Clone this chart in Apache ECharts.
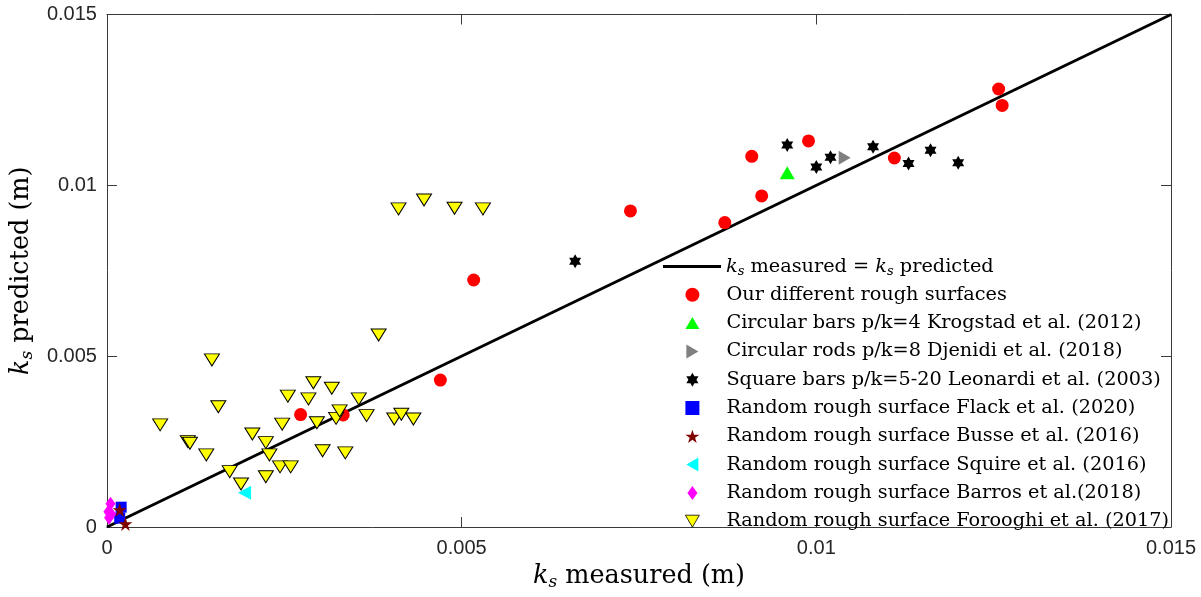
<!DOCTYPE html>
<html>
<head>
<meta charset="utf-8">
<script src="https://cdn.jsdelivr.net/npm/echarts@6/dist/echarts.min.js"></script>
<style>
  html, body { margin: 0; padding: 0; background: #fff; }
  #chart { width: 1201px; height: 597px; }
</style>
</head>
<body>
<div id="chart"></div>
<script>
// Tick labels shared by both axes (0 to 0.015 m, step 0.005)
const tickLabels = ['0', '0.005', '0.01', '0.015'];

// Identity line k_s measured = k_s predicted
const identityX = [0, 0.015];
const identityY = [0, 0.015];

// Present rough surfaces
const ourX = [0.00273, 0.00333, 0.00470, 0.00517, 0.00738, 0.00871, 0.00923, 0.00909, 0.00989, 0.01110, 0.01257, 0.01262];
const ourY = [0.00329, 0.00328, 0.00430, 0.00723, 0.00925, 0.00891, 0.00969, 0.01085, 0.01130, 0.01080, 0.01282, 0.01234];

// Krogstad et al. (2012), circular bars
const krogX = [0.00959];
const krogY = [0.01037];

// Djenidi et al. (2018), circular rods
const djenX = [0.01040];
const djenY = [0.01081];

// Leonardi et al. (2003), square bars
const leonX = [0.00660, 0.00959, 0.01000, 0.01020, 0.01080, 0.01130, 0.01161, 0.01200];
const leonY = [0.00778, 0.01118, 0.01054, 0.01082, 0.01113, 0.01064, 0.01103, 0.01066];

// Flack et al. (2020)
const flackX = [0.00020, 0.00018];
const flackY = [0.00058, 0.00026];

// Busse et al. (2016)
const busseX = [0.00018, 0.00026];
const busseY = [0.00050, 0.00009];

// Squire et al. (2016)
const squireX = [0.00194];
const squireY = [0.00100];

// Barros et al. (2018)
const barrosX = [0.00005, 0.00002, 0.00003, 0.00006];
const barrosY = [0.00068, 0.00045, 0.00027, 0.00038];

// Forooghi et al. (2017)
const foroX = [0.00383, 0.00148, 0.00157, 0.00075, 0.00114, 0.00117, 0.00140, 0.00173, 0.00189, 0.00205,
               0.00224, 0.00229, 0.00224, 0.00244, 0.00259, 0.00247, 0.00255, 0.00284, 0.00291, 0.00296,
               0.00304, 0.00317, 0.00323, 0.00328, 0.00336, 0.00355, 0.00366, 0.00405, 0.00415, 0.00432,
               0.00411, 0.00447, 0.00490, 0.00530];
const foroY = [0.00562, 0.00489, 0.00352, 0.00299, 0.00250, 0.00245, 0.00211, 0.00162, 0.00126, 0.00272,
               0.00247, 0.00211, 0.00147, 0.00176, 0.00176, 0.00301, 0.00383, 0.00375, 0.00422, 0.00305,
               0.00223, 0.00406, 0.00318, 0.00340, 0.00217, 0.00375, 0.00326, 0.00316, 0.00330, 0.00316,
               0.00931, 0.00957, 0.00933, 0.00931];

const names = [
  'ks measured = ks predicted',
  'Our different rough surfaces',
  'Circular bars p/k=4 Krogstad et al. (2012)',
  'Circular rods p/k=8 Djenidi et al. (2018)',
  'Square bars p/k=5-20 Leonardi et al. (2003)',
  'Random rough surface Flack et al. (2020)',
  'Random rough surface Busse et al. (2016)',
  'Random rough surface Squire et al. (2016)',
  'Random rough surface Barros et al.(2018)',
  'Random rough surface Forooghi et al. (2017)'
];

const HEXAGRAM = 'path://M50 0 L64.43 25 L93.3 25 L78.87 50 L93.3 75 L64.43 75 L50 100 L35.57 75 L6.7 75 L21.13 50 L6.7 25 L35.57 25 Z';
const PENTAGRAM = 'path://M50 0 L61.23 34.55 L97.55 34.55 L68.17 55.9 L79.39 90.45 L50 69.1 L20.61 90.45 L31.83 55.9 L2.45 34.55 L38.77 34.55 Z';
const TRI_UP = 'path://M7 0 L14 12 L0 12 Z';
const TRI_DOWN = 'path://M0 0 L14 0 L7 12 Z';
const TRI_RIGHT = 'path://M0 0 L12 7 L0 14 Z';
const TRI_LEFT = 'path://M12 0 L0 7 L12 14 Z';

const zip = (xs, ys) => xs.map((x, i) => [x, ys[i]]);

const AXIS = '#3a3a3a';
const SERIF = '"DejaVu Serif", "Liberation Serif", serif';
const SANS = '"Liberation Sans", Arial, sans-serif';
const tickFmt = v => tickLabels[Math.round(v / 0.005)];

function mathRich(size) {
  return {
    r: { fontFamily: SERIF, fontSize: size, color: '#000', lineHeight: size },
    i: { fontFamily: SERIF, fontSize: size, fontStyle: 'italic', color: '#000', lineHeight: size },
    s: { fontFamily: SERIF, fontSize: Math.round(size * 0.65), fontStyle: 'italic', color: '#000',
         padding: [Math.round(size * 0.5), 0, 0, 0] }
  };
}

function scatter(name, xs, ys, symbol, size, color, extra) {
  return Object.assign({
    name, type: 'scatter', data: zip(xs, ys), symbol, symbolSize: size,
    itemStyle: { color, opacity: 1 }, emphasis: { disabled: true }
  }, extra || {});
}

const valueAxisBase = {
  type: 'value', min: 0, max: 0.015, interval: 0.005,
  splitLine: { show: false },
  axisLine: { show: true, onZero: false, lineStyle: { color: AXIS, width: 1 } },
  axisTick: { show: true, inside: true, length: 10, lineStyle: { color: AXIS, width: 1 } }
};

const LEGEND_FONT = 19.3;

const chart = echarts.init(document.getElementById('chart'), null, { renderer: 'canvas' });

chart.setOption({
  animation: false,
  backgroundColor: '#fff',
  grid: { left: 105.5, right: 30, top: 14.5, bottom: 70, containLabel: false },
  xAxis: [
    Object.assign({}, valueAxisBase, {
      position: 'bottom',
      axisLabel: { formatter: tickFmt, color: '#262626', fontSize: 20, fontFamily: SANS, margin: 11 },
      name: '{i|k}{s|s}{r| measured (m)}', nameLocation: 'middle', nameGap: 34,
      nameTextStyle: { rich: mathRich(25.5) }
    }),
    Object.assign({}, valueAxisBase, { position: 'top', axisLabel: { show: false } })
  ],
  yAxis: [
    Object.assign({}, valueAxisBase, {
      position: 'left',
      axisLabel: { formatter: tickFmt, color: '#262626', fontSize: 20, fontFamily: SANS, margin: 10 },
      name: '{i|k}{s|s}{r| predicted (m)}', nameLocation: 'middle', nameGap: 56, nameRotate: 90,
      nameTextStyle: { rich: mathRich(25.5) }
    }),
    Object.assign({}, valueAxisBase, { position: 'right', axisLabel: { show: false } })
  ],
  legend: [
    {
      data: [{ name: names[0], icon: 'rect' }], orient: 'vertical', left: 663, top: 255.5, padding: 0,
      itemWidth: 58, itemHeight: 3, itemGap: 6.3,
      formatter: () => '{i|k}{s|s}{r| measured = }{i|k}{s|s}{r| predicted}',
      textStyle: { fontFamily: SERIF, fontSize: LEGEND_FONT, lineHeight: 22, color: '#000', rich: mathRich(LEGEND_FONT) }
    },
    {
      data: [
        { name: names[1], icon: 'circle' },
        { name: names[2], icon: TRI_UP },
        { name: names[3], icon: TRI_RIGHT },
        { name: names[4], icon: HEXAGRAM },
        { name: names[5], icon: 'path://M0 0 L10 0 L10 10 L0 10 Z' },
        { name: names[6], icon: PENTAGRAM },
        { name: names[7], icon: TRI_LEFT },
        { name: names[8], icon: 'path://M5 0 L10 7 L5 14 L0 7 Z' },
        { name: names[9], icon: TRI_DOWN, itemStyle: { borderWidth: 0.8, borderColor: '#000' } }
      ],
      orient: 'vertical', left: 685, top: 283.8, padding: 0,
      itemWidth: 14, itemHeight: 14, itemGap: 6.3, symbolRotate: 0,
      formatter: n => '{sp|}' + n,
      textStyle: { fontFamily: SERIF, fontSize: LEGEND_FONT, lineHeight: 22, color: '#000',
                   rich: { sp: { width: 22 } } }
    }
  ],
  series: [
    {
      name: names[0], type: 'line', data: zip(identityX, identityY), symbol: 'none',
      lineStyle: { color: '#000', width: 3 }, itemStyle: { color: '#000' },
      emphasis: { disabled: true }, z: 2
    },
    scatter(names[1], ourX, ourY, 'circle', 13, '#ff0000'),
    scatter(names[2], krogX, krogY, 'triangle', [15, 13], '#00ff00'),
    scatter(names[3], djenX, djenY, 'triangle', [14, 12], '#808080', { symbolRotate: -90 }),
    scatter(names[4], leonX, leonY, HEXAGRAM, [12, 14], '#000000'),
    scatter(names[5], flackX, flackY, 'rect', 11, '#0000ff'),
    scatter(names[6], busseX, busseY, PENTAGRAM, 14, '#800000'),
    scatter(names[7], squireX, squireY, 'triangle', [14, 13], '#00ffff', { symbolRotate: 90 }),
    scatter(names[8], barrosX, barrosY, 'diamond', [10, 14], '#ff00ff'),
    scatter(names[9], foroX, foroY, 'triangle', [15, 12], '#ffff00',
      { symbolRotate: 180, itemStyle: { color: '#ffff00', borderColor: '#000', borderWidth: 1, opacity: 1 } })
  ]
});
</script>
</body>
</html>
